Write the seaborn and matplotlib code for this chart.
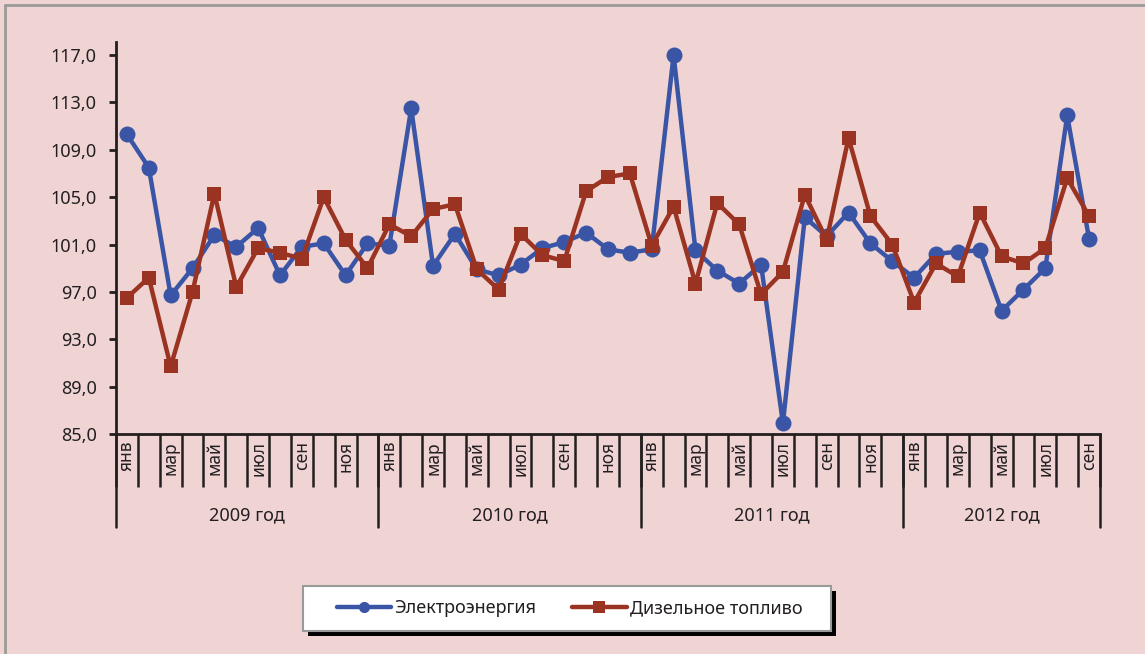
import matplotlib
matplotlib.use("Agg")
import matplotlib.pyplot as plt
import matplotlib.transforms as mtransforms
from matplotlib.patches import Rectangle
from matplotlib.lines import Line2D
from matplotlib.ticker import FixedLocator, FuncFormatter
import seaborn as sns
import pandas as pd
import numpy as np

# ---- data ----
years = ["2009 год", "2010 год", "2011 год", "2012 год"]
year_lengths = [12, 12, 12, 9]
months = ["янв", "фев", "мар", "апр", "май", "июн", "июл", "авг", "сен", "окт", "ноя", "дек"]

electricity = [110.3, 107.5, 96.7, 99.0, 101.8, 100.8, 102.4, 98.4, 100.8, 101.1, 98.4, 101.1,
               100.9, 112.5, 99.2, 101.9, 98.9, 98.4, 99.3, 100.7, 101.2, 102.0, 100.6, 100.3,
               100.6, 117.0, 100.5, 98.8, 97.7, 99.3, 85.9, 103.3, 101.7, 103.7, 101.1, 99.6,
               98.2, 100.2, 100.4, 100.5, 95.4, 97.2, 99.0, 111.9, 101.5]
diesel = [96.5, 98.2, 90.7, 97.0, 105.3, 97.4, 100.7, 100.3, 99.8, 105.0, 101.4, 99.0,
          102.7, 101.7, 104.0, 104.4, 98.9, 97.2, 101.9, 100.1, 99.6, 105.5, 106.7, 107.0,
          100.9, 104.2, 97.7, 104.5, 102.7, 96.8, 98.7, 105.2, 101.4, 110.0, 103.4, 101.0,
          96.1, 99.4, 98.3, 103.7, 100.0, 99.4, 100.7, 106.6, 103.4]
series_names = ["Электроэнергия", "Дизельное топливо"]

n = len(electricity)
idx = np.arange(n)
month_labels = [months[i % 12] for i in range(n)]
df = pd.DataFrame({"i": idx, series_names[0]: electricity, series_names[1]: diesel})

# ---- style ----
BG = "#F0D4D4"
INK = "#231F20"
BLUE = "#3A55A6"
RED = "#9A3321"

sns.set_style("ticks")
plt.rcParams["font.family"] = ["Noto Sans", "DejaVu Sans"]

fig = plt.figure(figsize=(11.45, 6.54), dpi=100, facecolor=BG)
ax = fig.add_axes([116 / 1145, 1 - 434 / 654, (1100 - 116) / 1145, (434 - 42) / 654])
ax.set_facecolor(BG)

sns.lineplot(data=df, x="i", y=series_names[0], ax=ax, color=BLUE, lw=3.2,
             marker="o", markersize=11.5, markeredgewidth=0, label=series_names[0], legend=False)
sns.lineplot(data=df, x="i", y=series_names[1], ax=ax, color=RED, lw=3.2,
             marker="s", markersize=10.5, markeredgewidth=0, label=series_names[1], legend=False)

ax.set_xlim(-0.5, n - 0.5)
ax.set_ylim(85, 118.1)
ax.set_xlabel("")
ax.set_ylabel("")

for s in ["top", "right"]:
    ax.spines[s].set_visible(False)
for s in ["left", "bottom"]:
    ax.spines[s].set_color(INK)
    ax.spines[s].set_linewidth(2)

ax.set_yticks(np.arange(85, 118, 4))
ax.yaxis.set_major_formatter(FuncFormatter(lambda v, p: f"{v:.1f}".replace(".", ",")))
ax.tick_params(axis="y", length=5, width=2, color=INK, labelsize=13, labelcolor=INK, pad=9)

# x axis: major ticks at months (labels only), minor at month boundaries
ax.set_xticks(idx)
ax.set_xticklabels([m if i % 2 == 0 else "" for i, m in enumerate(month_labels)],
                   rotation=90, fontsize=12.5, color=INK)
ax.xaxis.set_minor_locator(FixedLocator(np.arange(-0.5, n, 1.0)))
ax.tick_params(axis="x", which="major", length=0, pad=5)
ax.tick_params(axis="x", which="minor", length=38, width=1.8, color=INK)
for lab in ax.get_xticklabels():
    lab.set_va("top")

# year separators and labels
trans = mtransforms.blended_transform_factory(ax.transData, ax.transAxes)
bounds = np.concatenate([[0], np.cumsum(year_lengths)]) - 0.5
for b in bounds:
    ax.add_line(Line2D([b, b], [0, -(527 - 434) / 392], transform=trans, color=INK,
                       lw=1.8, clip_on=False))
for k, yname in enumerate(years):
    c = (bounds[k] + bounds[k + 1]) / 2
    ax.text(c, -(515 - 434) / 392, yname, transform=trans, ha="center", va="center",
            fontsize=13, color=INK)

# legend box with shadow
lx0, ly0, lx1, ly1 = 303, 586, 831, 631
fig.patches.append(Rectangle(((lx0 + 5) / 1145, 1 - (ly1 + 5) / 654), (lx1 - lx0) / 1145,
                             (ly1 - ly0) / 654, transform=fig.transFigure,
                             facecolor="black", edgecolor="none", zorder=0))
fig.patches.append(Rectangle((lx0 / 1145, 1 - ly1 / 654), (lx1 - lx0) / 1145,
                             (ly1 - ly0) / 654, transform=fig.transFigure,
                             facecolor="white", edgecolor="#9A9A9A", lw=1.5, zorder=1))
handles, labels = ax.get_legend_handles_labels()
leg = fig.legend(handles, labels, loc="center left",
                 bbox_to_anchor=(337 / 1145, 1 - 608 / 654), ncol=2, frameon=False,
                 fontsize=13, handlelength=3.0, handletextpad=0.17, columnspacing=2.0,
                 borderpad=0, borderaxespad=0)
for t in leg.get_texts():
    t.set_color(INK)
for h in leg.legend_handles:
    h.set_markersize(8)

# outer frame (top and left grey lines)
fig.add_artist(Line2D([5 / 1145, 1], [1 - 5 / 654, 1 - 5 / 654], transform=fig.transFigure,
                      color="#9A9A9A", lw=2))
fig.add_artist(Line2D([5 / 1145, 5 / 1145], [0, 1 - 5 / 654], transform=fig.transFigure,
                      color="#9A9A9A", lw=2))

fig.savefig("out.png", dpi=100, facecolor=BG)
